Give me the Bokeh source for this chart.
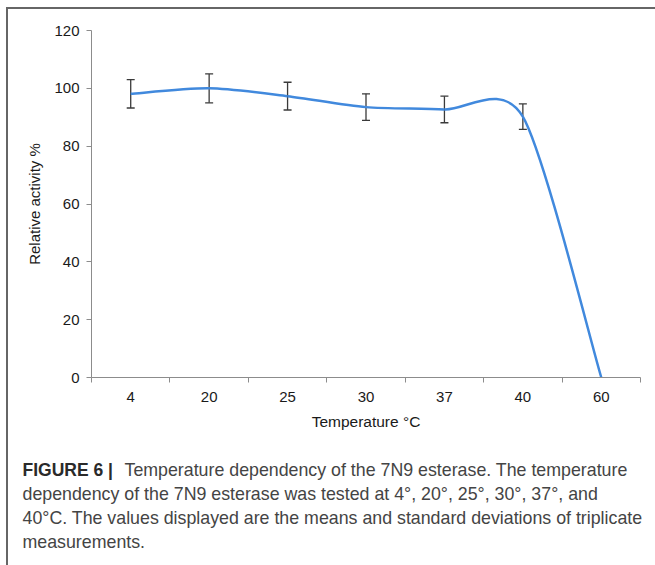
from bokeh.plotting import figure
from bokeh.models import (ColumnDataSource, Whisker, TeeHead, FixedTicker, Range1d)
from bokeh.layouts import column
from bokeh.core.properties import value
from bokeh.embed import file_html
from bokeh.resources import INLINE

# ---- data ----
categories = ["4", "20", "25", "30", "37", "40", "60"]
activity = [98.1, 100.0, 97.3, 93.5, 92.7, 90.2, 0.0]
std_dev = [4.9, 5.0, 4.8, 4.6, 4.6, 4.4, None]
y_ticks = [0, 20, 40, 60, 80, 100, 120]

caption_bold = "FIGURE 6 |"
caption_lines = [
    "Temperature dependency of the 7N9 esterase. The temperature",
    "dependency of the 7N9 esterase was tested at 4°, 20°, 25°, 30°, 37°, and",
    "40°C. The values displayed are the means and standard deviations of triplicate",
    "measurements.",
]

FONT = "Liberation Sans"
AXIS_GRAY = "#8c8c8c"
LINE_BLUE = "#4189DD"
TXT = "#1a1a1a"
CAP_TXT = "#444444"
SMOOTH = 1 / 7.5
BORDER = "2px solid #666666"

n = len(categories)
xs = [i + 0.5 for i in range(n)]

W = 647
p = figure(width=W, height=431, output_backend="svg", toolbar_location=None,
           x_range=Range1d(0, n), y_range=Range1d(0, 120),
           min_border_left=83, min_border_right=15, min_border_top=21,
           min_border_bottom=63)
p.outline_line_color = None
p.xgrid.visible = False
p.ygrid.visible = False

# smoothed curve as bezier segments
pts = list(zip(xs, activity))
x0, y0, x1, y1, cx0, cy0, cx1, cy1 = [], [], [], [], [], [], [], []
for i in range(n - 1):
    pm = pts[i - 1] if i > 0 else pts[i]
    pa = pts[i]
    pb = pts[i + 1]
    pn = pts[i + 2] if i + 2 < n else pts[i + 1]
    x0.append(pa[0]); y0.append(pa[1])
    x1.append(pb[0]); y1.append(pb[1])
    cx0.append(pa[0] + (pb[0] - pm[0]) * SMOOTH)
    cy0.append(pa[1] + (pb[1] - pm[1]) * SMOOTH)
    cx1.append(pb[0] - (pn[0] - pa[0]) * SMOOTH)
    cy1.append(pb[1] - (pn[1] - pa[1]) * SMOOTH)
bsrc = ColumnDataSource(dict(x0=x0, y0=y0, x1=x1, y1=y1, cx0=cx0, cy0=cy0, cx1=cx1, cy1=cy1))
p.bezier(x0="x0", y0="y0", x1="x1", y1="y1", cx0="cx0", cy0="cy0", cx1="cx1", cy1="cy1",
         source=bsrc, line_color=LINE_BLUE, line_width=2.5)

# error bars
ex = [x for x, e in zip(xs, std_dev) if e is not None]
eu = [v + e for v, e in zip(activity, std_dev) if e is not None]
el = [v - e for v, e in zip(activity, std_dev) if e is not None]
esrc = ColumnDataSource(dict(x=ex, upper=eu, lower=el))
w = Whisker(base="x", upper="upper", lower="lower", source=esrc,
            line_color="#3a3a3a", line_width=1.3,
            upper_head=TeeHead(size=8, line_color="#3a3a3a", line_width=1.3),
            lower_head=TeeHead(size=8, line_color="#3a3a3a", line_width=1.3))
p.add_layout(w)

# x axis
xa = p.xaxis[0]
xa.ticker = FixedTicker(ticks=xs, minor_ticks=list(range(n + 1)))
xa.major_label_overrides = {x: c for x, c in zip(xs, categories)}
xa.major_tick_out = 0
xa.major_tick_in = 0
xa.minor_tick_out = 5
xa.minor_tick_in = 0
xa.minor_tick_line_color = AXIS_GRAY
xa.axis_line_color = AXIS_GRAY
xa.major_label_standoff = 9
xa.major_label_text_font = FONT
xa.major_label_text_font_size = "15px"
xa.major_label_text_color = TXT
xa.axis_label = "Temperature °C"
xa.axis_label_text_font = FONT
xa.axis_label_text_font_size = "15.5px"
xa.axis_label_text_font_style = "normal"
xa.axis_label_text_color = TXT
xa.axis_label_standoff = 8

# y axis
ya = p.yaxis[0]
ya.ticker = FixedTicker(ticks=y_ticks, minor_ticks=[])
ya.major_tick_out = 5
ya.major_tick_in = 0
ya.major_tick_line_color = AXIS_GRAY
ya.axis_line_color = AXIS_GRAY
ya.major_label_standoff = 7
ya.major_label_text_font = FONT
ya.major_label_text_font_size = "15px"
ya.major_label_text_color = TXT
ya.axis_label = "Relative activity %"
ya.axis_label_text_font = FONT
ya.axis_label_text_font_size = "15px"
ya.axis_label_text_font_style = "normal"
ya.axis_label_text_color = TXT
ya.axis_label_standoff = 8

# caption figure (pixel-like coordinates, y downward)
CH = 125
cap = figure(width=W, height=CH, output_backend="svg", toolbar_location=None,
             x_range=Range1d(0, W), y_range=Range1d(CH, 0), min_border=0,
             x_axis_location=None, y_axis_location=None)
cap.xgrid.visible = False
cap.ygrid.visible = False
cap.outline_line_color = None

cap_y = [29, 53, 77, 101]
cap.text(x=[14], y=[cap_y[0]], text=[caption_bold], text_font=value(FONT),
         text_font_size="17.5px", text_font_style="bold", text_color="#2a2a2a",
         text_baseline="middle", text_align="left")
cap.text(x=[116, 14, 14, 14], y=cap_y, text=caption_lines, text_font=value(FONT),
         text_font_size="17.8px", text_color=CAP_TXT,
         text_baseline="middle", text_align="left")

top = column(p, styles={"margin-left": "6px", "margin-top": "7px",
                        "border-top": BORDER, "border-left": BORDER})
bottom = column(cap, styles={"margin-left": "6px", "border-left": BORDER})

open("out.html", "w").write(file_html([top, bottom], INLINE))
